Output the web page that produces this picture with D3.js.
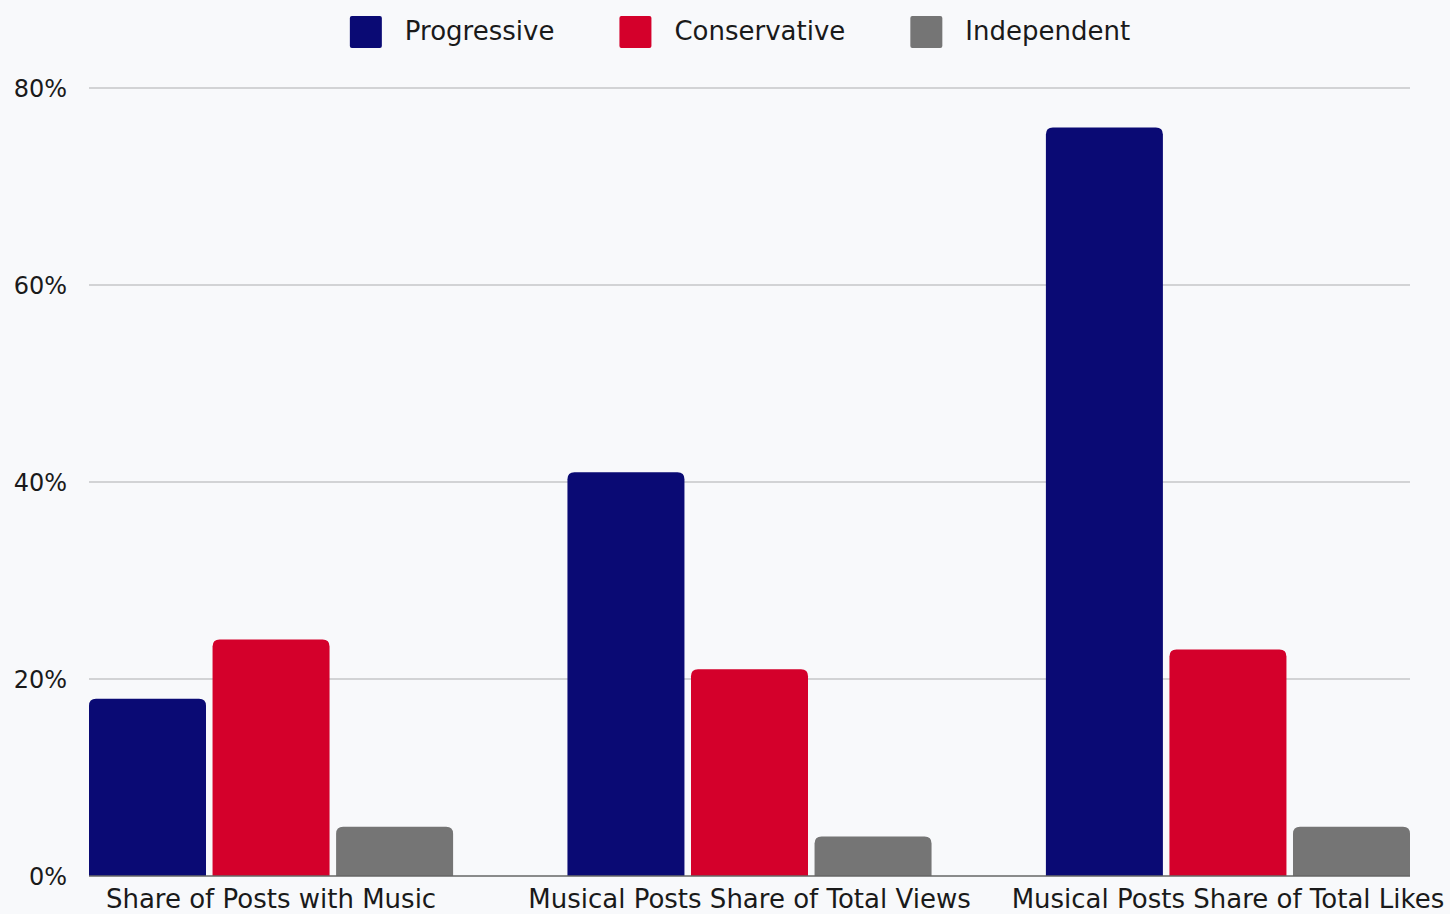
<!DOCTYPE html>
<html lang="en-US">
<head>
  <script src="https://d3js.org/d3.v7.min.js"></script>
  <style>
    body { margin: 0; background: #f8f9fb; }
    text { font-family: "DejaVu Sans", sans-serif; fill: #1a1a1a; }
  </style>
</head>
<body>

<svg width="1450" height="914"></svg>

<script>
var categories = ["Share of Posts with Music", "Musical Posts Share of Total Views", "Musical Posts Share of Total Likes"];
var seriesNames = ["Progressive", "Conservative", "Independent"];
var progressive = [18, 41, 76];
var conservative = [24, 21, 23];
var independent = [5, 4, 5];
var yTicks = [0, 20, 40, 60, 80];
var colors = ["#0a0a74", "#d4002b", "#757575"];

var series = [progressive, conservative, independent];

var svg = d3.select("svg"),
    width = +svg.attr("width"),
    height = +svg.attr("height");

svg.append("rect").attr("width", width).attr("height", height).attr("fill", "#f8f9fb");

var margin = {left: 89, right: 40, top: 88, bottom: 38};

var x0 = d3.scaleBand()
    .domain(categories)
    .range([margin.left, width - margin.right])
    .paddingInner(0.239)
    .paddingOuter(0);

var x1 = d3.scaleBand()
    .domain(seriesNames)
    .range([0, x0.bandwidth()])
    .paddingInner(0.053);

var y = d3.scaleLinear()
    .domain([0, 80])
    .range([height - margin.bottom, margin.top]);

// grid
svg.append("g")
    .selectAll("line")
    .data(yTicks.filter(d => d > 0))
    .enter().append("line")
    .attr("x1", margin.left)
    .attr("x2", width - margin.right)
    .attr("y1", d => y(d))
    .attr("y2", d => y(d))
    .attr("stroke", "#c6c6c9")
    .attr("stroke-width", 1.5);

// y labels
svg.append("g")
    .selectAll("text")
    .data(yTicks)
    .enter().append("text")
    .attr("x", 67)
    .attr("y", d => y(d))
    .attr("dy", "0.36em")
    .attr("text-anchor", "end")
    .style("font-size", "24px")
    .text(d => d + "%");

// bars with rounded tops
function topRounded(x, yTop, w, h, r) {
  r = Math.min(r, h, w / 2);
  return "M" + x + "," + (yTop + h) +
    "V" + (yTop + r) +
    "Q" + x + "," + yTop + " " + (x + r) + "," + yTop +
    "H" + (x + w - r) +
    "Q" + (x + w) + "," + yTop + " " + (x + w) + "," + (yTop + r) +
    "V" + (yTop + h) + "Z";
}

var rows = [];
categories.forEach(function(c, i) {
  seriesNames.forEach(function(s, j) {
    rows.push({cat: c, name: s, value: series[j][i], color: colors[j]});
  });
});

svg.append("g")
    .selectAll("path")
    .data(rows)
    .enter().append("path")
    .attr("fill", d => d.color)
    .attr("d", d => topRounded(x0(d.cat) + x1(d.name), y(d.value), x1.bandwidth(), y(0) - y(d.value), 7));

// baseline
svg.append("line")
    .attr("x1", margin.left)
    .attr("x2", width - margin.right)
    .attr("y1", y(0))
    .attr("y2", y(0))
    .attr("stroke", "#666")
    .attr("stroke-width", 1.5);

// category labels
svg.append("g")
    .selectAll("text")
    .data(categories)
    .enter().append("text")
    .attr("x", d => x0(d) + x0.bandwidth() / 2)
    .attr("y", 908)
    .attr("text-anchor", "middle")
    .style("font-size", "26px")
    .text(d => d);

// legend
var legend = svg.append("g");
var items = legend.selectAll("g")
    .data(seriesNames)
    .enter().append("g");
items.append("rect")
    .attr("width", 32).attr("height", 32).attr("rx", 2)
    .attr("y", 16)
    .attr("fill", (d, i) => colors[i]);
items.append("text")
    .attr("x", 55)
    .attr("y", 31)
    .attr("dy", "0.36em")
    .style("font-size", "26px")
    .text(d => d);

var xpos = 0, offsets = [];
items.each(function(d, i) {
  offsets.push(xpos);
  var w = this.querySelector("text").getComputedTextLength();
  xpos += 55 + w + 65;
});
var total = xpos - 65;
var start = 740 - total / 2;
items.attr("transform", (d, i) => "translate(" + (start + offsets[i]) + ",0)");
</script>
</body>
</html>
